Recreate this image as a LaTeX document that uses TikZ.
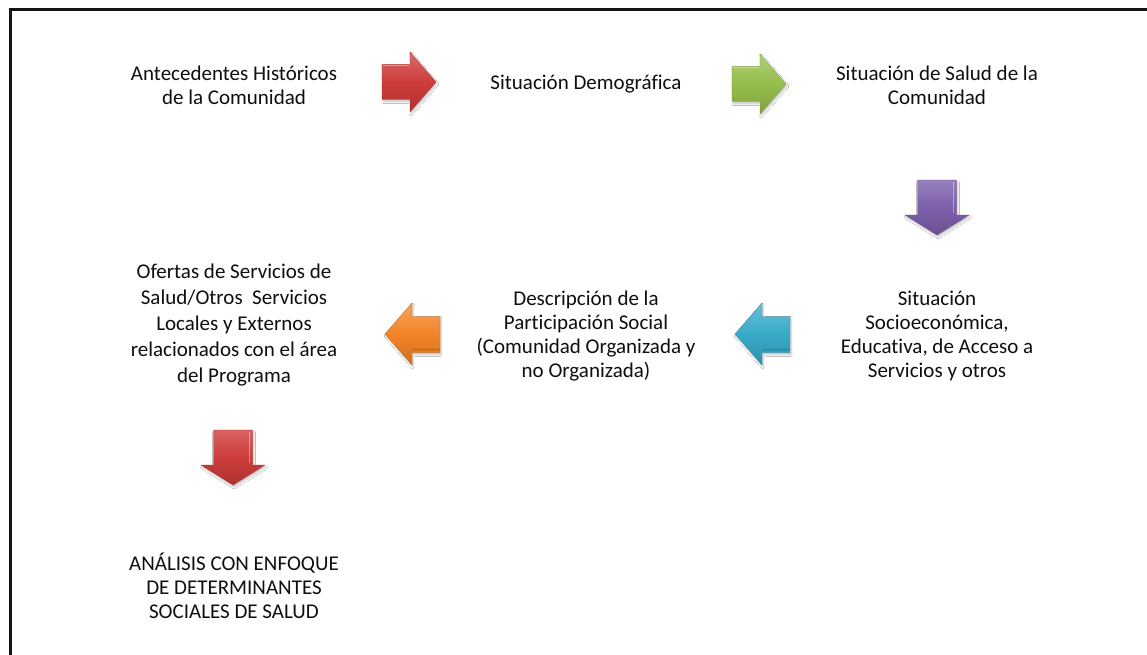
\documentclass[tikz,border=0pt]{standalone}
\usepackage{fontspec}
\setmainfont{Carlito}[Ligatures={NoCommon}]
\usetikzlibrary{shadows.blur}
\definecolor{txt}{RGB}{15,15,15}
\tikzset{
  lbl/.style={align=center, text=txt, font=\fontsize{21}{24}\selectfont, inner sep=0pt},
  arr/.style={draw=#1!80!black, line width=0.3pt, blur shadow={shadow xshift=1pt, shadow yshift=-2pt, shadow blur steps=6, shadow opacity=25}},
}
\definecolor{cred}{RGB}{205,60,58}
\definecolor{cgreen}{RGB}{150,190,75}
\definecolor{cpurple}{RGB}{125,95,170}
\definecolor{ccyan}{RGB}{55,170,200}
\definecolor{corange}{RGB}{243,132,40}
\newcommand{\rarrow}[3]{% #1 x0, #2 yc, #3 colour
  \path[arr=#3, top color=#3!75!white, bottom color=#3!85!black, middle color=#3]
    (#1pt,-#2pt+17.5pt) -- ++(28pt,0) -- ++(0,12.5pt) -- ++(26pt,-30pt) -- ++(-26pt,-30pt) -- ++(0,12.5pt) -- ++(-28pt,0) -- cycle;
  \draw[white, opacity=0.35, line width=1pt] (#1pt+1pt,-#2pt+16pt) -- ++(26pt,0);
}
\newcommand{\larrow}[3]{% #1 x of tip, #2 yc
  \path[arr=#3, top color=#3!75!white, bottom color=#3!85!black, middle color=#3]
    (#1pt,-#2pt) -- ++(27pt,31pt) -- ++(0,-13.5pt) -- ++(28pt,0) -- ++(0,-36pt) -- ++(-28pt,0) -- ++(0,-12.5pt) -- cycle;
  \draw[#3!60!black, opacity=0.5, line width=0.8pt] (#1pt+28pt,-#2pt-15pt) -- ++(27pt,0);
}
\newcommand{\darrow}[3]{% #1 xc, #2 y top
  \path[arr=#3, top color=#3!80!white, bottom color=#3!85!black, middle color=#3]
    (#1pt-19.5pt,-#2pt) -- ++(39pt,0) -- ++(0,-35pt) -- ++(12.5pt,0) -- ++(-32pt,-20pt) -- ++(-32pt,20pt) -- ++(12.5pt,0) -- cycle;
  \draw[white, opacity=0.4, line width=1pt] (#1pt+16pt,-#2pt-2pt) -- ++(0,-31pt);
}
\begin{document}
\begin{tikzpicture}[x=1pt,y=1pt]
\useasboundingbox (0,0) rectangle (1147,-655);
\fill[white] (0,0) rectangle (1147,-655);
\draw[line width=2.2pt, black!92] (10.5,-655) -- (10.5,-9.5) -- (1147,-9.5);

\node[lbl] (n1) at (234,-85) {Antecedentes Históricos\\de la Comunidad};
\node[lbl] (n2) at (586,-84) {Situación Demográfica};
\node[lbl] (n3) at (937,-85) {Situación de Salud de la\\Comunidad};
\node[lbl] (n4) at (937,-336) {Situación\\Socioeconómica,\\Educativa, de Acceso a\\Servicios y otros};
\node[lbl] (n5) at (586,-336) {Descripción de la\\Participación Social\\(Comunidad Organizada y\\no Organizada)};
\node[lbl, font=\fontsize{21}{26}\selectfont] (n6) at (234,-325) {Ofertas de Servicios de\\Salud/Otros\ \ Servicios\\Locales y Externos\\relacionados con el área\\del Programa};
\node[lbl] (n7) at (234,-586) {ANÁLISIS CON ENFOQUE\\DE DETERMINANTES\\SOCIALES DE SALUD};

\rarrow{382}{82}{cred}
\rarrow{732}{84}{cgreen}
\darrow{937}{180}{cpurple}
\larrow{735}{334}{ccyan}
\larrow{385}{334}{corange}
\darrow{233}{430}{cred}
\end{tikzpicture}
\end{document}
